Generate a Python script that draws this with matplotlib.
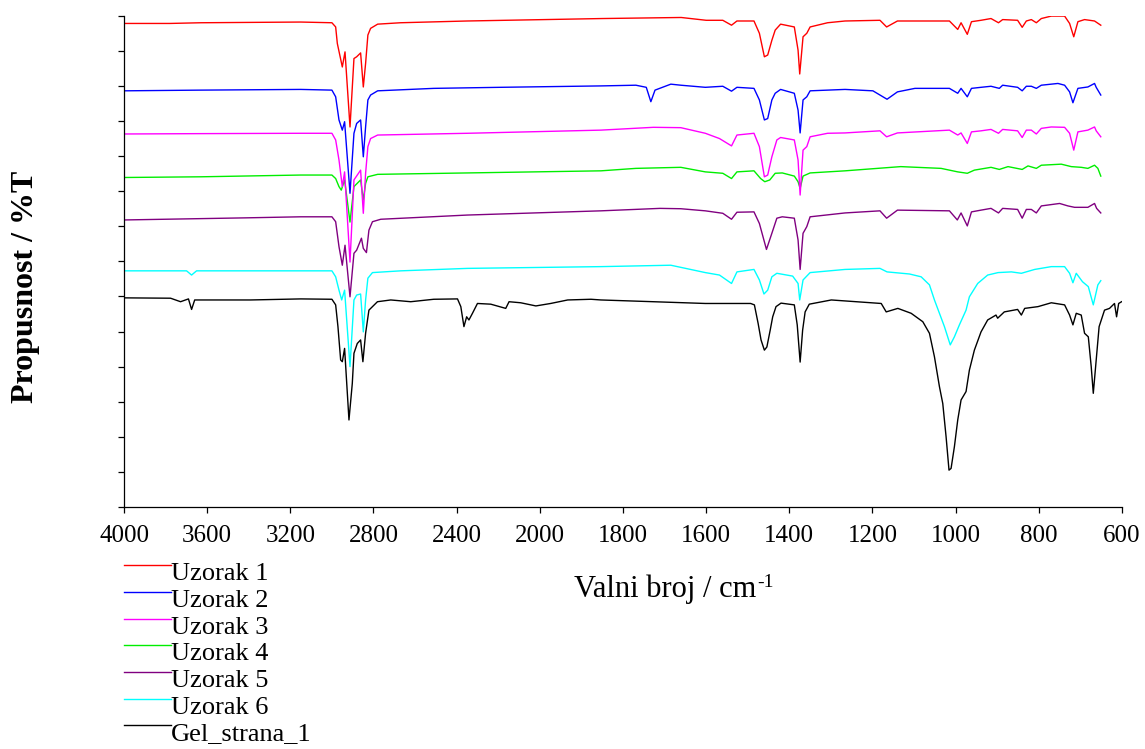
import numpy as np
import matplotlib
matplotlib.use('Agg')
import matplotlib.pyplot as plt
from matplotlib.lines import Line2D
from matplotlib.legend_handler import HandlerLine2D

plt.rcParams['font.family'] = ['Liberation Serif', 'DejaVu Serif']

# --- spectra (wavenumber / cm-1, offset transmittance) ---
wn_1 = [4000, 3780, 3630, 3150, 3000, 2982, 2974, 2950, 2937, 2913, 2894, 2881, 2862, 2849,
        2838, 2827, 2814, 2780, 2670, 2350, 1850, 1660, 1600, 1560, 1539, 1526, 1485, 1472,
        1460, 1452, 1442, 1434, 1421, 1388, 1379, 1375, 1367, 1358, 1350, 1308, 1266, 1182,
        1166, 1140, 1098, 1015, 995, 987, 972, 962, 939, 915, 897, 887, 851, 840, 830, 818,
        806, 794, 770, 738, 726, 716, 706, 690, 666, 651]
t_1 = [137.8, 137.8, 138.0, 138.2, 138.0, 136.8, 132.1, 125.4, 129.7, 108.3, 127.8, 128.3,
       129.4, 119.7, 126.4, 134.5, 136.4, 137.6, 138.0, 138.5, 139.2, 139.5, 138.7, 138.7,
       137.3, 138.5, 138.5, 135.0, 128.3, 128.8, 133.0, 135.9, 137.6, 136.8, 130.2, 123.4,
       134.0, 135.0, 136.8, 138.0, 138.5, 138.7, 136.8, 138.5, 138.5, 138.5, 136.1, 138.0,
       134.7, 138.3, 138.7, 139.2, 138.0, 138.9, 138.7, 136.7, 138.5, 138.9, 138.0, 139.2,
       139.9, 139.9, 137.8, 134.0, 138.3, 138.9, 138.5, 137.3]

wn_2 = [4000, 3630, 3150, 3000, 2982, 2966, 2950, 2939, 2913, 2894, 2881, 2862, 2849, 2838,
        2827, 2814, 2780, 2510, 2190, 1853, 1769, 1744, 1733, 1723, 1685, 1661, 1602, 1560,
        1539, 1526, 1485, 1472, 1460, 1452, 1442, 1434, 1421, 1388, 1379, 1374, 1367, 1358,
        1350, 1308, 1266, 1199, 1182, 1165, 1140, 1098, 1015, 995, 987, 972, 962, 939, 915,
        895, 887, 851, 840, 830, 818, 806, 794, 754, 738, 726, 718, 706, 682, 666, 662, 651]
t_2 = [118.6, 118.8, 119.0, 118.8, 116.9, 110.3, 107.4, 109.8, 89.4, 106.5, 109.3, 110.3,
       99.8, 108.3, 116.0, 117.4, 118.6, 119.3, 119.6, 120.0, 120.2, 119.6, 115.5, 118.8,
       120.5, 120.2, 119.6, 119.9, 118.5, 119.6, 119.3, 116.0, 110.3, 110.7, 116.0, 117.9,
       119.0, 117.9, 113.1, 106.6, 116.0, 116.9, 118.6, 118.8, 119.0, 118.6, 117.4, 116.2,
       118.3, 119.3, 119.3, 117.9, 119.3, 116.9, 119.3, 119.6, 119.9, 119.3, 120.2, 119.6,
       118.6, 119.9, 119.9, 119.3, 120.2, 120.7, 120.2, 118.3, 115.2, 119.3, 119.7, 120.7,
       119.6, 117.4]

wn_3 = [4000, 3630, 3150, 3000, 2982, 2966, 2950, 2939, 2913, 2894, 2862, 2849, 2838, 2827,
        2814, 2780, 2348, 1853, 1727, 1661, 1602, 1568, 1539, 1526, 1485, 1472, 1460, 1452,
        1442, 1430, 1421, 1388, 1379, 1374, 1367, 1358, 1350, 1308, 1266, 1182, 1166, 1140,
        1015, 995, 987, 972, 962, 939, 915, 897, 887, 851, 840, 830, 818, 806, 794, 770, 738,
        726, 716, 706, 682, 666, 662, 651]
t_3 = [106.3, 106.4, 106.5, 106.5, 104.6, 98.9, 91.3, 95.5, 69.8, 93.2, 96.0, 83.7, 95.1,
       102.7, 105.0, 106.0, 106.5, 107.4, 108.2, 108.1, 106.5, 105.0, 102.9, 106.0, 106.5,
       102.7, 94.1, 94.6, 99.8, 104.6, 105.3, 104.6, 98.9, 88.9, 101.7, 102.7, 105.5, 106.5,
       106.6, 107.2, 105.5, 106.6, 107.4, 106.0, 106.6, 103.6, 106.9, 107.2, 107.6, 106.5,
       107.6, 107.2, 105.3, 107.4, 107.4, 106.3, 107.9, 108.3, 108.2, 106.5, 101.7, 106.9,
       107.4, 108.3, 107.2, 105.5]

wn_4 = [4000, 3630, 3150, 3000, 2982, 2966, 2955, 2939, 2913, 2894, 2862, 2849, 2838, 2827,
        2780, 2348, 1853, 1769, 1661, 1602, 1560, 1539, 1526, 1485, 1469, 1459, 1447, 1434,
        1417, 1388, 1379, 1374, 1367, 1350, 1266, 1132, 1035, 995, 972, 955, 915, 895, 874,
        840, 826, 806, 794, 746, 722, 698, 682, 666, 658, 651]
t_4 = [93.9, 94.1, 94.6, 94.6, 93.6, 91.3, 90.3, 93.2, 81.2, 91.3, 93.2, 87.5, 92.2, 94.1,
       94.8, 95.2, 95.8, 96.5, 96.8, 95.5, 95.1, 93.6, 95.5, 95.8, 93.6, 92.7, 93.2, 95.1,
       95.2, 94.3, 92.7, 90.8, 94.3, 95.2, 95.8, 97.0, 96.5, 95.5, 95.1, 96.0, 96.8, 96.2,
       97.0, 96.2, 97.2, 96.5, 97.4, 97.7, 97.0, 96.8, 96.5, 97.4, 96.5, 94.3]

wn_5 = [4000, 3415, 3150, 3000, 2982, 2966, 2950, 2937, 2913, 2894, 2881, 2858, 2849, 2834,
        2822, 2805, 2765, 2348, 1853, 1711, 1661, 1602, 1560, 1539, 1526, 1485, 1472, 1455,
        1442, 1430, 1417, 1388, 1379, 1374, 1367, 1358, 1350, 1266, 1182, 1166, 1140, 1015,
        996, 987, 972, 962, 939, 915, 897, 887, 851, 840, 830, 818, 806, 794, 750, 730, 714,
        682, 666, 661, 651]
t_5 = [81.8, 82.4, 82.7, 82.7, 81.3, 74.2, 68.9, 74.6, 59.9, 72.3, 73.2, 76.6, 73.7, 72.5,
       78.9, 81.3, 82.0, 83.2, 84.4, 85.1, 85.0, 84.4, 83.7, 82.0, 84.0, 84.1, 80.8, 73.4,
       78.0, 82.3, 82.7, 82.3, 76.1, 67.7, 78.0, 79.9, 82.7, 83.8, 84.4, 82.3, 84.6, 84.4,
       81.8, 83.8, 80.1, 84.1, 84.6, 85.1, 83.8, 85.1, 84.8, 82.3, 84.8, 84.8, 83.8, 85.8,
       86.5, 85.8, 85.4, 85.4, 86.5, 85.1, 83.8]

wn_6 = [4000, 3699, 3675, 3651, 3150, 3000, 2982, 2966, 2953, 2939, 2913, 2894, 2881, 2862,
        2849, 2838, 2827, 2805, 2669, 2348, 1853, 1769, 1685, 1602, 1568, 1539, 1526, 1485,
        1472, 1461, 1452, 1442, 1430, 1392, 1379, 1375, 1367, 1350, 1266, 1182, 1165, 1111,
        1083, 1063, 1051, 1039, 1027, 1013, 1003, 991, 975, 967, 947, 923, 898, 866, 842, 810,
        770, 738, 726, 718, 710, 695, 681, 669, 658, 651]
t_6 = [67.3, 67.3, 66.1, 67.3, 67.3, 67.3, 65.6, 61.8, 59.0, 61.8, 40.0, 59.0, 60.4, 60.7,
       49.9, 59.0, 65.2, 66.8, 67.3, 68.0, 68.5, 68.7, 68.9, 66.8, 66.1, 63.7, 67.0, 67.7,
       64.7, 60.7, 61.8, 65.6, 66.6, 65.8, 63.7, 59.0, 64.7, 66.8, 67.7, 68.0, 67.0, 66.4,
       65.6, 63.3, 59.0, 55.2, 51.4, 46.2, 48.5, 51.9, 56.1, 59.9, 63.7, 66.1, 66.8, 67.0,
       66.6, 67.7, 68.5, 68.5, 66.6, 63.9, 66.6, 64.2, 62.8, 57.6, 63.3, 64.5]

wn_gel = [4000, 3776, 3728, 3690, 3675, 3660, 3632, 3391, 3150, 3000, 2982, 2971, 2958, 2950,
          2939, 2918, 2902, 2894, 2878, 2862, 2851, 2838, 2822, 2781, 2717, 2621, 2510, 2396,
          2380, 2365, 2352, 2341, 2324, 2300, 2236, 2164, 2148, 2092, 2019, 1974, 1933, 1877,
          1853, 1727, 1602, 1493, 1484, 1475, 1468, 1460, 1454, 1446, 1440, 1432, 1420, 1388,
          1381, 1374, 1368, 1362, 1352, 1299, 1179, 1167, 1139, 1107, 1079, 1063, 1051, 1039,
          1031, 1023, 1016, 1011, 1003, 995, 987, 975, 967, 955, 939, 923, 903, 899, 883, 851,
          842, 834, 802, 770, 738, 726, 718, 710, 698, 690, 681, 674, 669, 662, 655, 642, 630,
          618, 613, 608, 601]
t_gel = [59.6, 59.5, 58.5, 59.3, 56.3, 59.0, 59.0, 59.0, 59.3, 59.2, 57.6, 51.4, 41.9, 41.4,
         45.2, 24.8, 35.2, 43.8, 46.6, 47.6, 41.4, 49.5, 56.1, 58.5, 59.0, 58.5, 59.2, 59.3,
         57.1, 51.4, 54.2, 53.3, 55.2, 58.0, 57.8, 56.6, 58.5, 58.2, 57.3, 58.0, 59.0, 59.2,
         59.0, 58.5, 58.0, 58.0, 57.6, 52.3, 47.6, 44.7, 45.6, 50.4, 54.2, 57.1, 58.1, 57.6,
         51.9, 41.3, 50.4, 55.6, 57.8, 59.0, 58.0, 55.6, 56.6, 55.2, 52.8, 49.5, 42.8, 34.3,
         29.5, 20.0, 10.5, 11.0, 17.2, 24.8, 30.5, 32.9, 39.0, 44.7, 49.9, 53.3, 54.7, 53.8,
         55.6, 56.3, 54.7, 56.6, 57.1, 58.2, 57.6, 54.7, 51.9, 55.2, 54.7, 49.5, 48.5, 40.0,
         32.4, 41.9, 51.4, 56.1, 56.6, 58.0, 54.2, 58.0, 58.5]

names = ['Uzorak 1', 'Uzorak 2', 'Uzorak 3', 'Uzorak 4', 'Uzorak 5', 'Uzorak 6',
         'Gel_strana_1']
colors = ['#ff0000', '#0000ff', '#ff00ff', '#00ee00', '#800080', '#00ffff', '#000000']
series = [(wn_1, t_1), (wn_2, t_2), (wn_3, t_3), (wn_4, t_4), (wn_5, t_5), (wn_6, t_6),
          (wn_gel, t_gel)]
x_ticks = [4000, 3600, 3200, 2800, 2400, 2000, 1800, 1600, 1400, 1200, 1000, 800, 600]


# FTIR style axis: 400 cm-1 per division above 2000, 200 cm-1 per division below
def fwd(w):
    w = np.asarray(w, dtype=float)
    return np.where(w <= 2000, w / 200.0, 10.0 + (w - 2000.0) / 400.0)


def inv(p):
    p = np.asarray(p, dtype=float)
    return np.where(p <= 10, p * 200.0, 2000.0 + (p - 10.0) * 400.0)


class RaisedLine(HandlerLine2D):
    """legend line sits near the top of the label, like the original"""
    def create_artists(self, legend, orig_handle, xdescent, ydescent, width, height,
                       fontsize, trans):
        arts = super().create_artists(legend, orig_handle, xdescent, ydescent, width,
                                      height, fontsize, trans)
        for a in arts:
            a.set_ydata(np.asarray(a.get_ydata(), dtype=float) + 0.22 * fontsize)
        return arts


W, H = 1145, 749
fig = plt.figure(figsize=(W / 100, H / 100), dpi=100)
ax = fig.add_axes([0.1083, 0.3231, 0.8716, 0.6559])

lines = {}
for i in reversed(range(len(series))):
    wn, t = series[i]
    ln, = ax.plot(wn, t, color=colors[i], lw=1.0, label=names[i])
    lines[i] = ln

ax.set_xscale('function', functions=(fwd, inv))
ax.set_xlim(4000, 600)
ax.set_xticks(x_ticks)
ax.set_xticklabels([str(v) for v in x_ticks])
ax.minorticks_off()
ax.set_ylim(0, 140)
ax.set_yticks(np.arange(0, 141, 10))
ax.set_yticklabels([])

for s in ('top', 'right'):
    ax.spines[s].set_visible(False)
for s in ('left', 'bottom'):
    ax.spines[s].set_linewidth(0.9)
ax.tick_params(axis='both', direction='out', length=4, width=0.9)
ax.tick_params(axis='x', labelsize=18, pad=9)

# x label with a plain hyphen superscript, as in the original
xl = fig.text(574 / W, 1 - 597 / H, 'Valni broj / cm', fontsize=22,
              ha='left', va='baseline')
fig.canvas.draw()
bb = xl.get_window_extent()
fig.text((bb.x1 + 1) / W, 1 - 587 / H, '-1', fontsize=14, ha='left', va='baseline')

fig.text(26 / W, 1 - 287 / H, 'Propusnost / %T', fontsize=23, fontweight='bold',
         rotation=90, ha='center', va='center')

fig.legend(handles=[lines[i] for i in range(len(series))], labels=names,
           loc='upper left', bbox_to_anchor=(124 / W, 1 - 562 / H),
           frameon=False, fontsize=19, handlelength=1.78, handletextpad=0.0,
           borderpad=0, borderaxespad=0, labelspacing=0.12,
           handler_map={Line2D: RaisedLine()})

fig.savefig('out.png', dpi=100, facecolor='white')
